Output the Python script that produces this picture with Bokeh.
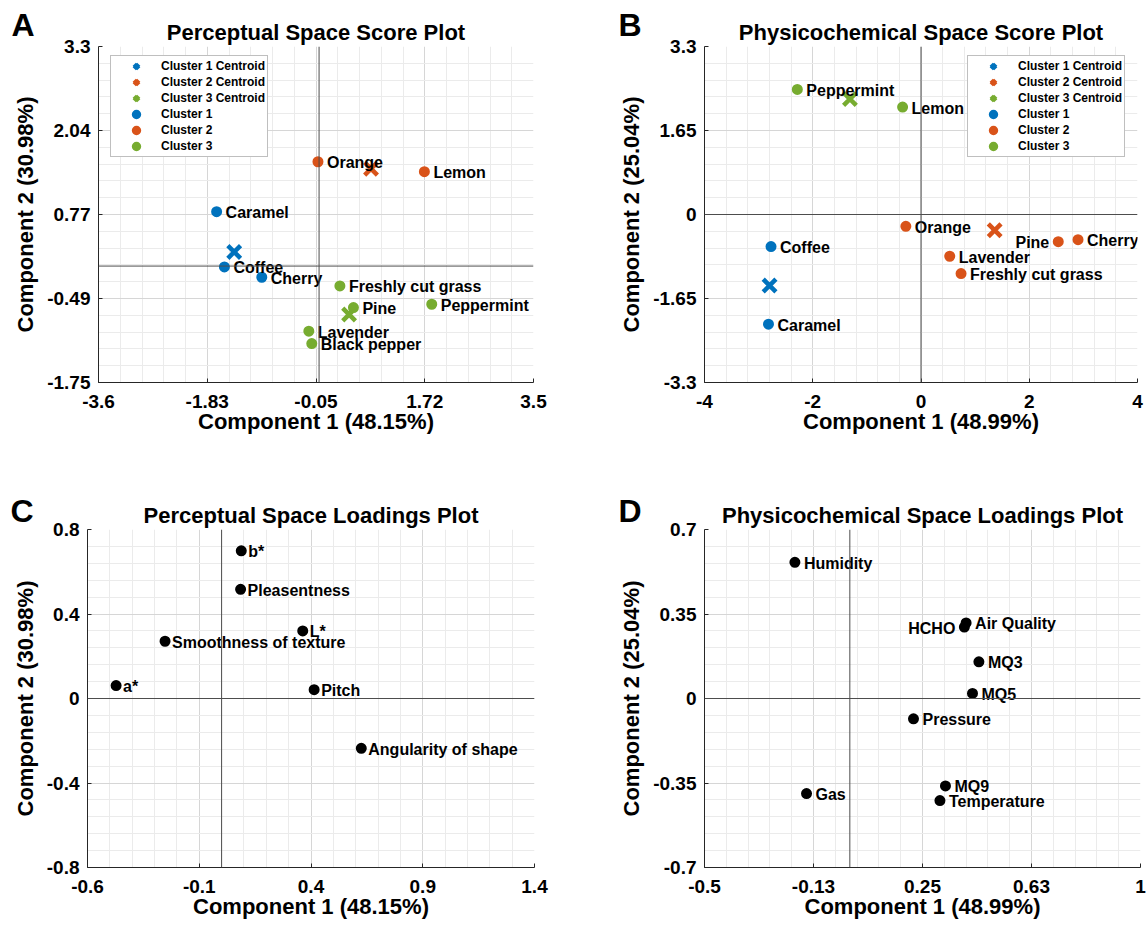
import numpy as np
from bokeh.plotting import figure
from bokeh.models import ColumnDataSource, FixedTicker, Span, Label, Legend, LegendItem
from bokeh.layouts import column, row
from bokeh.embed import file_html
from bokeh.resources import INLINE
from bokeh.core.properties import value

FONT = "Liberation Sans"
BLUE, ORANGE, GREEN = "#0072BD", "#D95319", "#77AC30"

# ---------------- Panel A: perceptual score plot ----------------
A_c1_names = ["Caramel", "Coffee", "Cherry"]
A_c1_x = [-1.672, -1.545, -0.935]
A_c1_y = [0.818, -0.013, -0.168]
A_c2_names = ["Orange", "Lemon"]
A_c2_x = [-0.018, 1.719]
A_c2_y = [1.568, 1.418]
A_c3_names = ["Freshly cut grass", "Pine", "Peppermint", "Lavender", "Black pepper"]
A_c3_x = [0.340, 0.561, 1.839, -0.167, -0.119]
A_c3_y = [-0.299, -0.624, -0.574, -0.979, -1.165]
A_cent_x = [-1.385, 0.848, 0.490]
A_cent_y = [0.212, 1.463, -0.729]
A_xticks = [-3.6, -1.825, -0.05, 1.725, 3.5]
A_xlabels = ["-3.6", "-1.83", "-0.05", "1.72", "3.5"]
A_yticks = [-1.75, -0.4875, 0.775, 2.0375, 3.3]
A_ylabels = ["-1.75", "-0.49", "0.77", "2.04", "3.3"]

# ---------------- Panel B: physicochemical score plot ----------------
B_c1_names = ["Coffee", "Caramel"]
B_c1_x = [-2.771, -2.818]
B_c1_y = [-0.631, -2.155]
B_c2_names = ["Orange", "Pine", "Cherry", "Lavender", "Freshly cut grass"]
B_c2_x = [-0.280, 2.536, 2.901, 0.531, 0.740]
B_c2_y = [-0.232, -0.533, -0.495, -0.820, -1.160]
B_c3_names = ["Peppermint", "Lemon"]
B_c3_x = [-2.285, -0.340]
B_c3_y = [2.456, 2.110]
B_cent_x = [-2.798, 1.361, -1.313]
B_cent_y = [-1.396, -0.310, 2.267]
B_right_labels = ["Pine"]
B_xticks = [-4, -2, 0, 2, 4]
B_xlabels = ["-4", "-2", "0", "2", "4"]
B_yticks = [-3.3, -1.65, 0, 1.65, 3.3]
B_ylabels = ["-3.3", "-1.65", "0", "1.65", "3.3"]

# ---------------- Panel C: perceptual loadings ----------------
C_names = ["b*", "Pleasentness", "L*", "Smoothness of texture", "a*", "Pitch", "Angularity of shape"]
C_x = [0.088, 0.085, 0.363, -0.253, -0.472, 0.414, 0.625]
C_y = [0.699, 0.517, 0.320, 0.271, 0.061, 0.042, -0.236]
C_xticks = [-0.6, -0.1, 0.4, 0.9, 1.4]
C_xlabels = ["-0.6", "-0.1", "0.4", "0.9", "1.4"]
C_yticks = [-0.8, -0.4, 0, 0.4, 0.8]
C_ylabels = ["-0.8", "-0.4", "0", "0.4", "0.8"]

# ---------------- Panel D: physicochemical loadings ----------------
D_names = ["Humidity", "HCHO", "Air Quality", "MQ3", "MQ5", "Pressure", "MQ9", "Temperature", "Gas"]
D_x = [-0.189, 0.394, 0.400, 0.444, 0.422, 0.219, 0.329, 0.310, -0.149]
D_y = [0.564, 0.296, 0.313, 0.152, 0.021, -0.084, -0.362, -0.423, -0.394]
D_right_labels = ["HCHO"]
D_xticks = [-0.5, -0.125, 0.25, 0.625, 1.0]
D_xlabels = ["-0.5", "-0.13", "0.25", "0.63", "1"]
D_yticks = [-0.7, -0.35, 0, 0.35, 0.7]
D_ylabels = ["-0.7", "-0.35", "0", "0.35", "0.7"]

CLUSTER_LABELS = ["Cluster 1", "Cluster 2", "Cluster 3"]


def minor_of(ticks):
    out = []
    for a, b in zip(ticks[:-1], ticks[1:]):
        out.extend(list(np.linspace(a, b, 6)[1:-1]))
    return out


def make_fig(title, xticks, xlabels, yticks, ylabels, xlab, ylab, W, H, l, r, t, b):
    p = figure(width=W, height=H, min_border_left=l, min_border_right=r,
               min_border_top=t, min_border_bottom=b, title=title,
               x_range=(xticks[0], xticks[-1]), y_range=(yticks[0], yticks[-1]),
               output_backend="svg", toolbar_location=None, tools="")
    p.title.align = "center"
    p.title.text_font = FONT
    p.title.text_font_style = "bold"
    p.title.text_font_size = "22px"
    p.title.text_color = "black"
    p.title.standoff = 4
    p.outline_line_color = None
    p.background_fill_color = "white"
    p.border_fill_color = "white"
    xt = FixedTicker(ticks=list(xticks), minor_ticks=minor_of(list(xticks)))
    yt = FixedTicker(ticks=list(yticks), minor_ticks=minor_of(list(yticks)))
    p.xaxis.ticker = xt
    p.yaxis.ticker = yt
    p.xgrid.ticker = xt
    p.ygrid.ticker = yt
    p.xaxis.major_label_overrides = {float(k): v for k, v in zip(xticks, xlabels)}
    p.yaxis.major_label_overrides = {float(k): v for k, v in zip(yticks, ylabels)}
    for g in (p.xgrid[0], p.ygrid[0]):
        g.grid_line_color = "#d6d6d6"
        g.grid_line_width = 1
        g.minor_grid_line_color = "#ebebeb"
        g.minor_grid_line_width = 1
    for ax in (p.xaxis[0], p.yaxis[0]):
        ax.axis_line_color = "#262626"
        ax.axis_line_width = 1
        ax.major_tick_in = 4
        ax.major_tick_out = 0
        ax.major_tick_line_color = "#262626"
        ax.minor_tick_in = 0
        ax.minor_tick_out = 0
        ax.major_label_text_font = FONT
        ax.major_label_text_font_style = "bold"
        ax.major_label_text_font_size = "19px"
        ax.major_label_text_color = "black"
        ax.axis_label_text_font = FONT
        ax.axis_label_text_font_style = "bold"
        ax.axis_label_text_font_size = "22px"
        ax.axis_label_text_color = "black"
    p.xaxis.axis_label = xlab
    p.yaxis.axis_label = ylab
    p.xaxis.major_label_standoff = 12
    p.yaxis.major_label_standoff = 8
    p.xaxis.axis_label_standoff = -2
    p.yaxis.axis_label_standoff = 6
    p.add_layout(Span(location=0, dimension="height", line_color="#4d4d4d", line_width=1))
    p.add_layout(Span(location=0, dimension="width", line_color="#4d4d4d", line_width=1))
    return p


def add_letter(p, letter, side, lx, ly):
    p.add_layout(Label(x=lx, y=ly, x_units="screen", y_units="screen",
                       text=letter, text_align="left", text_baseline="alphabetic",
                       text_font=FONT, text_font_style="bold", text_font_size="32px",
                       text_color="black"), side)


def add_text(p, xs, ys, names, right_names, offset):
    left_idx = [i for i, n in enumerate(names) if n not in right_names]
    right_idx = [i for i, n in enumerate(names) if n in right_names]
    for idx, align, off in ((left_idx, "left", offset), (right_idx, "right", -offset)):
        if not idx:
            continue
        src = ColumnDataSource(dict(x=[xs[i] for i in idx], y=[ys[i] for i in idx],
                                    t=[names[i] for i in idx]))
        p.text(x="x", y="y", text="t", source=src, x_offset=off, y_offset=1,
               text_align=align, text_baseline="middle",
               text_font=value(FONT), text_font_style="bold", text_font_size="16px",
               text_color="black")


def score_panel(clusters, cents, xticks, xlabels, yticks, ylabels, xlab, ylab, dims,
                title, letter, legend_loc, right_names, letter_side, lx, ly):
    W, H, l, r, t, b = dims
    p = make_fig(title, xticks, xlabels, yticks, ylabels, xlab, ylab, W, H, l, r, t, b)
    colors = [BLUE, ORANGE, GREEN]
    xr = []
    dr = []
    for (cx, cy), col in zip(zip(*cents), colors):
        xr.append(p.scatter(x=[cx], y=[cy], marker="x", size=18, line_color=col, line_width=4.5))
    for (xs, ys, names), col in zip(clusters, colors):
        dr.append(p.scatter(x=xs, y=ys, marker="circle", size=8, fill_color=col,
                            line_color=col, line_width=3))
    for xs, ys, names in clusters:
        add_text(p, xs, ys, names, right_names, 9)
    items = [LegendItem(label=f"{c} Centroid", renderers=[rr]) for c, rr in zip(CLUSTER_LABELS, xr)]
    items += [LegendItem(label=c, renderers=[rr]) for c, rr in zip(CLUSTER_LABELS, dr)]
    leg = Legend(items=items, location=legend_loc, margin=0, padding=2, spacing=0,
                 glyph_height=16, label_height=16, glyph_width=46, label_standoff=2,
                 label_text_font=FONT, label_text_font_style="bold",
                 label_text_font_size="12px", label_text_color="black",
                 border_line_color="#808080", border_line_width=1,
                 background_fill_color="white", background_fill_alpha=1.0)
    p.add_layout(leg)
    add_letter(p, letter, letter_side, lx, ly)
    return p


def loading_panel(xs, ys, names, right_names, xticks, xlabels, yticks, ylabels, xlab, ylab,
                  dims, title, letter, offset, letter_side, lx, ly):
    W, H, l, r, t, b = dims
    p = make_fig(title, xticks, xlabels, yticks, ylabels, xlab, ylab, W, H, l, r, t, b)
    p.scatter(x=xs, y=ys, marker="circle", size=8, fill_color="black",
              line_color="black", line_width=3)
    add_text(p, xs, ys, names, right_names, offset)
    add_letter(p, letter, letter_side, lx, ly)
    return p


pA = score_panel([(A_c1_x, A_c1_y, A_c1_names), (A_c2_x, A_c2_y, A_c2_names),
                  (A_c3_x, A_c3_y, A_c3_names)], (A_cent_x, A_cent_y),
                 A_xticks, A_xlabels, A_yticks, A_ylabels,
                 "Component 1 (48.15%)", "Component 2 (30.98%)",
                 (574, 470, 98, 41, 46, 88), "Perceptual Space Score Plot", "A",
                 (12, 225), [], "right", -522, 357.5)

pB = score_panel([(B_c1_x, B_c1_y, B_c1_names), (B_c2_x, B_c2_y, B_c2_names),
                  (B_c3_x, B_c3_y, B_c3_names)], (B_cent_x, B_cent_y),
                 B_xticks, B_xlabels, B_yticks, B_ylabels,
                 "Component 1 (48.99%)", "Component 2 (25.04%)",
                 (574, 470, 130, 11, 46, 88), "Physicochemical Space Score Plot", "B",
                 (263, 225), B_right_labels, "left", 25, 357.5)

pC = loading_panel(C_x, C_y, C_names, [], C_xticks, C_xlabels, C_yticks, C_ylabels,
                   "Component 1 (48.15%)", "Component 2 (30.98%)",
                   (574, 458, 87, 40, 59, 61), "Perceptual Space Loadings Plot", "C",
                   7, "right", -524, 356.5)

pD = loading_panel(D_x, D_y, D_names, D_right_labels, D_xticks, D_xlabels, D_yticks, D_ylabels,
                   "Component 1 (48.99%)", "Component 2 (25.04%)",
                   (574, 458, 130, 8, 59, 61), "Physicochemical Space Loadings Plot", "D",
                   9, "left", 25, 356.5)

layout = column(row(pA, pB), row(pC, pD))
open("out.html", "w").write(file_html(layout, INLINE))
